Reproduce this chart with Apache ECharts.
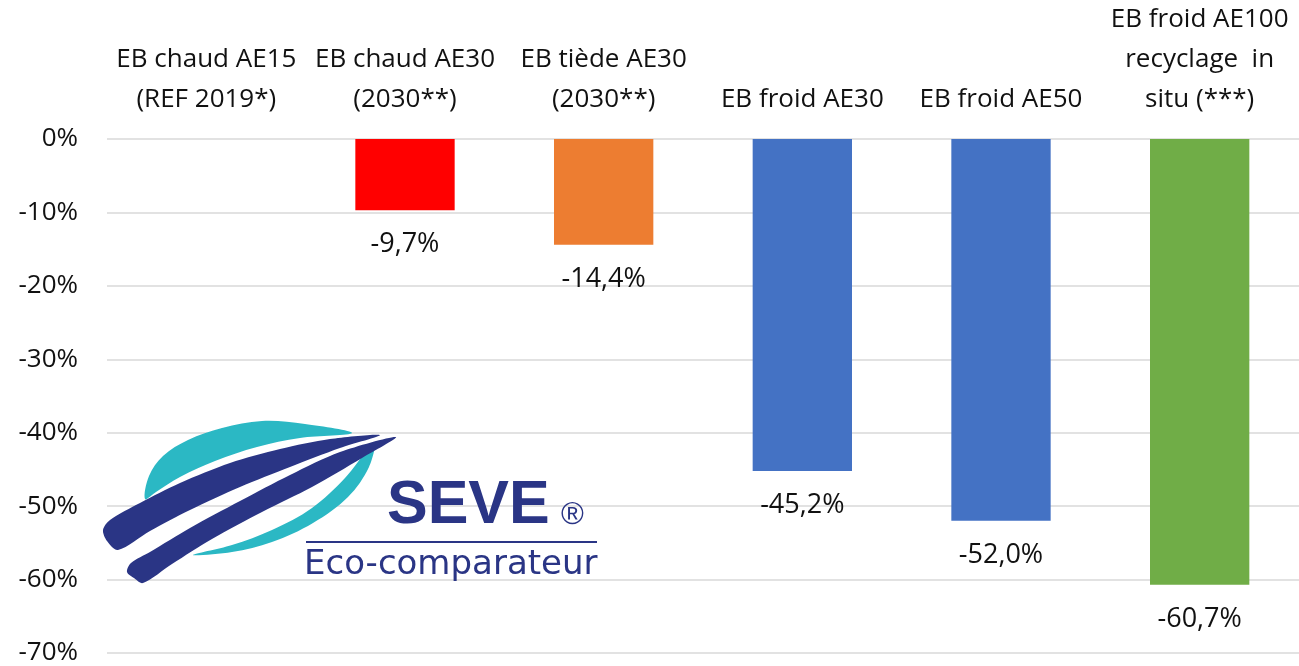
<!DOCTYPE html>
<html>
<head>
<meta charset="utf-8">
<script src="https://cdn.jsdelivr.net/npm/echarts@6/dist/echarts.min.js"></script>
<style>
  html, body { margin: 0; padding: 0; background: #fff; }
  #chart { width: 1299px; height: 666px; }
</style>
</head>
<body>
<div id="chart"></div>
<script>
// categories (top axis) and values in %
var categories = [
    "EB chaud AE15\n(REF 2019*)",
    "EB chaud AE30\n(2030**)",
    "EB tiède AE30\n(2030**)",
    "EB froid AE30",
    "EB froid AE50",
    "EB froid AE100\nrecyclage  in\nsitu (***)"
];
var values = [null, -9.7, -14.4, -45.2, -52.0, -60.7];
var barColors = ["#4472c4", "#ff0000", "#ed7d31", "#4472c4", "#4472c4", "#70ad47"];

var yTicks = { min: -70, max: 0, interval: 10 };

var FONT = "'Open Sans', 'Noto Sans', sans-serif";
var NAVY = "#2a3585";
var CYAN = "#2bb8c4";

var chart = echarts.init(document.getElementById("chart"));

var option = {
    animation: false,
    backgroundColor: "#fff",
    grid: { left: 107, right: 0, top: 138, bottom: 11 },
    xAxis: {
        type: "category",
        position: "top",
        data: categories,
        axisLine: { show: false },
        axisTick: { show: false },
        axisLabel: {
            interval: 0,
            margin: 19,
            fontFamily: FONT,
            fontSize: 26,
            lineHeight: 40,
            color: "#111"
        }
    },
    yAxis: {
        type: "value",
        min: yTicks.min,
        max: yTicks.max,
        interval: yTicks.interval,
        axisLine: { show: false },
        axisTick: { show: false },
        axisLabel: {
            margin: 29,
            fontFamily: FONT,
            fontSize: 26,
            color: "#111",
            formatter: "{value}%"
        },
        splitLine: { lineStyle: { color: "#d9d9d9", width: 1.5 } }
    },
    series: [{
        type: "bar",
        barWidth: "50%",
        data: values.map(function (v, i) {
            return { value: v, itemStyle: { color: barColors[i] } };
        }),
        label: {
            show: true,
            position: "bottom",
            distance: 21,
            fontFamily: FONT,
            fontSize: 27,
            color: "#111",
            formatter: function (p) {
                if (p.value == null) return "";
                return p.value.toFixed(1).replace(".", ",") + "%";
            }
        },
        z: 2
    }],
    graphic: [
        // SEVE logo (decoration)
        {
            type: "polygon", z: 10,
            shape: { smooth: 0.35, points: [
                [145, 499], [149, 476], [163, 456], [188, 440], [222, 428], [262, 421],
                [305, 424], [352, 433], [300, 438], [257, 447], [215, 461], [180, 477], [156, 492]
            ] },
            style: { fill: CYAN }
        },
        {
            type: "polygon", z: 10,
            shape: { smooth: 0.35, points: [
                [374, 443], [369, 467], [348, 497], [313, 523], [272, 542], [232, 552], [193, 555],
                [232, 545], [272, 530], [312, 508], [345, 478]
            ] },
            style: { fill: CYAN }
        },
        {
            type: "polygon", z: 11,
            shape: { smooth: 0.3, points: [
                [380, 435], [330, 439], [280, 449], [230, 463], [180, 483], [140, 503], [110, 520],
                [103, 530], [107, 541], [118, 550], [150, 531], [190, 510], [240, 487], [290, 467], [340, 448]
            ] },
            style: { fill: NAVY }
        },
        {
            type: "polygon", z: 11,
            shape: { smooth: 0.3, points: [
                [396, 437], [340, 452], [290, 475], [240, 501], [190, 528], [150, 552], [131, 563],
                [127, 572], [134, 578], [143, 583], [172, 564], [212, 539], [262, 512], [312, 487], [362, 458]
            ] },
            style: { fill: NAVY }
        },
        {
            type: "text", z: 12, left: 387, top: 476,
            style: { text: "SEVE", fontFamily: "'Liberation Sans', Arial, sans-serif", fontWeight: "bold", fontSize: 61, fill: NAVY }
        },
        {
            type: "text", z: 12, left: 561, top: 500,
            style: { text: "®", fontFamily: "'Liberation Sans', Arial, sans-serif", fontSize: 31, fill: NAVY }
        },
        {
            type: "line", z: 12,
            shape: { x1: 306, y1: 542, x2: 597, y2: 542 },
            style: { stroke: NAVY, lineWidth: 2 }
        },
        {
            type: "text", z: 12, left: 304, top: 548,
            style: { text: "Eco-comparateur", fontFamily: "'DejaVu Sans', sans-serif", fontSize: 34, fill: NAVY }
        }
    ]
};

chart.setOption(option);
</script>
</body>
</html>
